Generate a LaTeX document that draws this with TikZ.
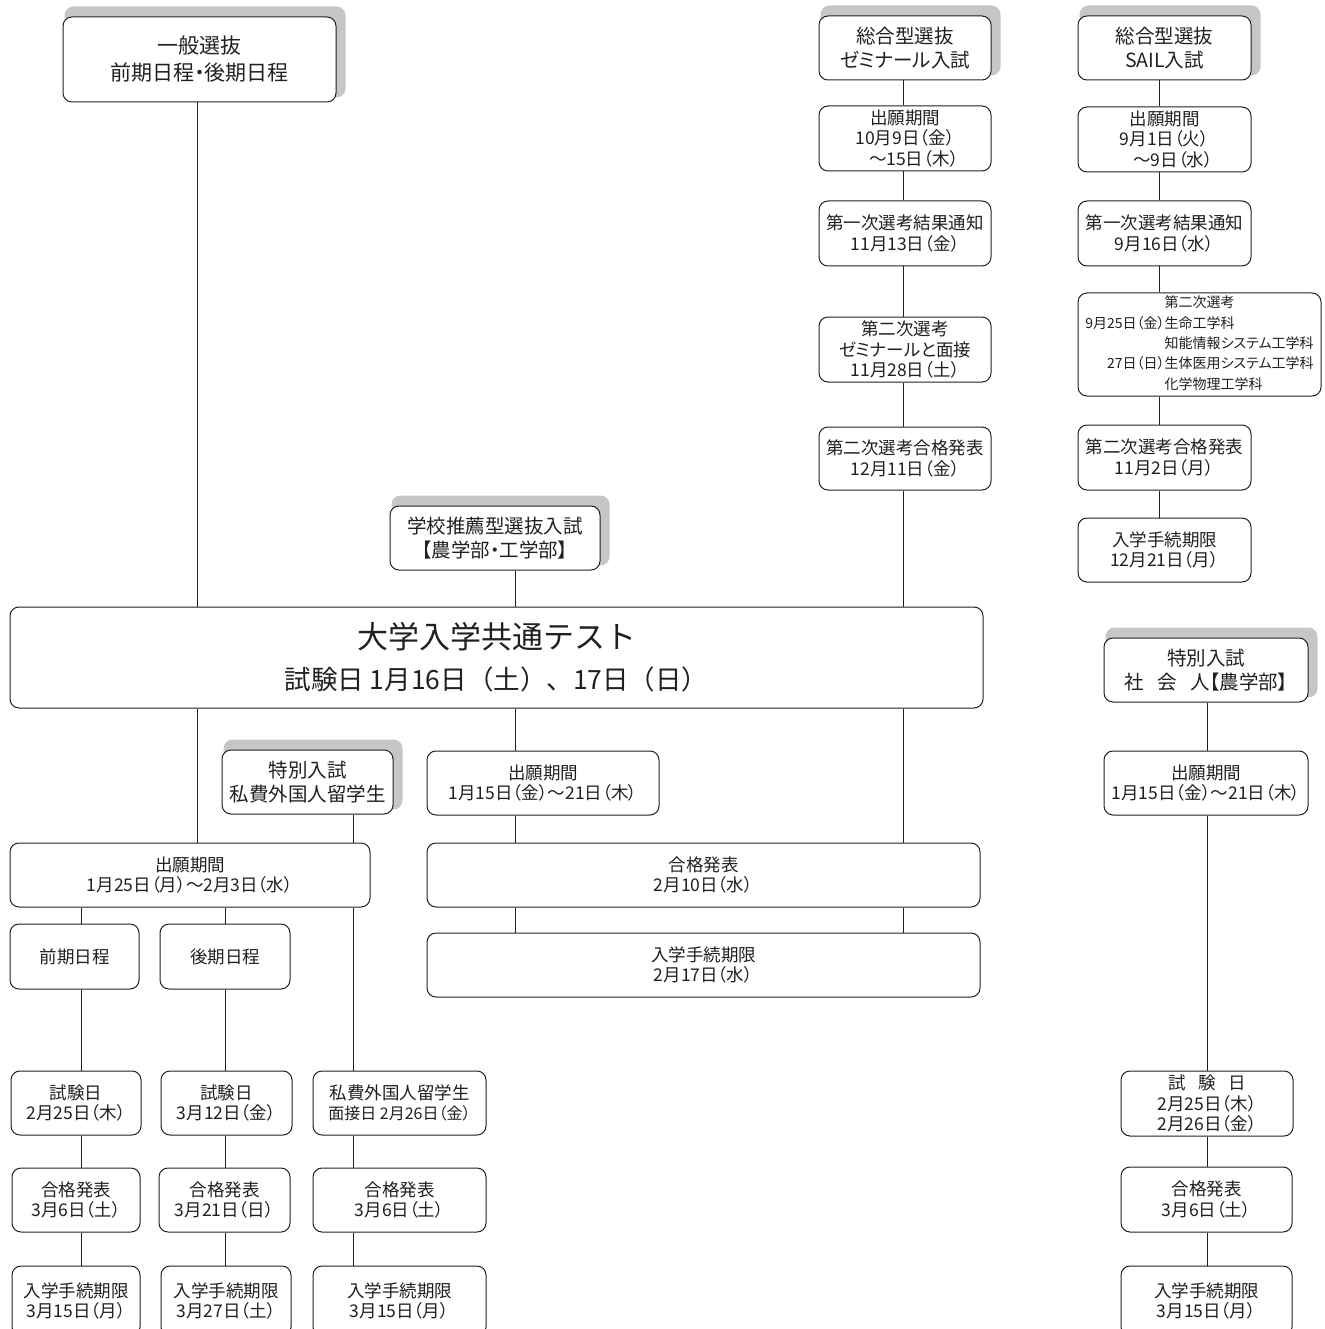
\documentclass[tikz,border=0pt]{standalone}
\usepackage{fontspec}
\setmainfont{Noto Sans CJK JP}[RawFeature=+palt]
\newfontfamily\widefont{Noto Sans CJK JP}
\usepackage{tikz}
\usetikzlibrary{backgrounds, calc}
\definecolor{inkGray}{HTML}{231F20}
\definecolor{shadowGray}{HTML}{C6C6C6}

\begin{document}
\begin{tikzpicture}[x=1pt, y=-1pt,
  every node/.style={text=inkGray},
  link/.style={draw=inkGray, line width=1pt},
  stepbox/.style={draw=inkGray, line width=1pt, fill=white, rounded corners=9pt,
                  align=center, inner sep=0pt, font=\fontsize{17.5}{20.5}\selectfont},
  headbox/.style={stepbox, font=\fontsize{19.5}{24}\selectfont},
  wh/.style 2 args={minimum width=#1pt, minimum height=#2pt}]

  \useasboundingbox (0,0) rectangle (1324,1329);

  %% ═══════════════════════════════════════════════════════════════
  %% COLUMN LINES
  %% ═══════════════════════════════════════════════════════════════

  \coordinate (ippanL)  at (197,0);
  \coordinate (colA)    at (81,0);
  \coordinate (colB)    at (225,0);
  \coordinate (ryuL)    at (353,0);
  \coordinate (schoolL) at (515,0);
  \coordinate (semiL)   at (903,0);
  \coordinate (sailL)   at (1159,0);
  \coordinate (shakaiL) at (1207,0);

  %% ═══════════════════════════════════════════════════════════════
  %% TOP: GENERAL / COMPREHENSIVE SELECTION
  %% ═══════════════════════════════════════════════════════════════

  \node[headbox, wh={273}{85}, font=\fontsize{21}{27}\selectfont] (ippanH) at (199.5,59.5)
      {一般選抜\\前期日程・後期日程};

  \node[headbox, wh={172}{64}] (semiH) at (905,48)
      {総合型選抜\\ゼミナール入試};
  \node[stepbox, wh={172}{65}] (semi1) at (905,138.5)
      {出願期間\\10月9日（金）\\　～15日（木）};
  \node[stepbox, wh={172}{65}] (semi2) at (905,233.5)
      {第一次選考結果通知\\11月13日（金）};
  \node[stepbox, wh={172}{65}] (semi3) at (905,349.5)
      {第二次選考\\ゼミナールと面接\\11月28日（土）};
  \node[stepbox, wh={172}{63}] (semi4) at (905,458.5)
      {第二次選考合格発表\\12月11日（金）};

  \node[headbox, wh={173}{64}] (sailH) at (1164.5,48)
      {総合型選抜\\SAIL入試};
  \node[stepbox, wh={173}{65}] (sail1) at (1164.5,139.5)
      {出願期間\\9月1日（火）\\　～9日（水）};
  \node[stepbox, wh={173}{65}] (sail2) at (1164.5,233.5)
      {第一次選考結果通知\\9月16日（水）};
  \node[stepbox, wh={243}{103}, font=\fontsize{14}{20.3}\selectfont] (sail3) at (1199.5,344.5)
      {\begin{tabular}{@{}r@{}l@{}}
         \multicolumn{2}{c}{第二次選考}\\
         9月25日（金）&生命工学科\\
         &知能情報システム工学科\\
         27日（日）&生体医用システム工学科\\
         &化学物理工学科
       \end{tabular}};
  \node[stepbox, wh={173}{65}] (sail4) at (1164.5,457.5)
      {第二次選考合格発表\\11月2日（月）};
  \node[stepbox, wh={173}{64}] (sail5) at (1164.5,550)
      {入学手続期限\\12月21日（月）};

  \node[headbox, wh={210}{64}] (schoolH) at (495,538)
      {学校推薦型選抜入試\\【農学部・工学部】};

  %% ═══════════════════════════════════════════════════════════════
  %% COMMON TEST
  %% ═══════════════════════════════════════════════════════════════

  \node[stepbox, wh={973}{101}, font=\widefont\fontsize{26.5}{41}\selectfont] (ctest) at (496.5,657.5)
      {{\fontsize{31}{41}\selectfont 大学入学共通テスト}\\
       試験日 1月16日（土）、17日（日）};

  %% ═══════════════════════════════════════════════════════════════
  %% AFTER THE TEST
  %% ═══════════════════════════════════════════════════════════════

  \node[headbox, wh={171}{64}] (ryuH) at (307.5,782)
      {特別入試\\私費外国人留学生};
  \node[stepbox, wh={360}{64}] (applyL) at (190,875)
      {出願期間\\1月25日（月）～2月3日（水）};
  \node[stepbox, wh={129}{65}] (zenki) at (74.5,956.5) {前期日程};
  \node[stepbox, wh={130}{65}] (koki) at (225,956.5) {後期日程};

  \node[stepbox, wh={130}{64}] (shikenA) at (76,1103)
      {試験日\\2月25日（木）};
  \node[stepbox, wh={128}{64}] (passA) at (76,1200)
      {合格発表\\3月6日（土）};
  \node[stepbox, wh={128}{70}] (tetsuA) at (76,1301)
      {入学手続期限\\3月15日（月）};

  \node[stepbox, wh={131}{64}] (shikenB) at (226.5,1103)
      {試験日\\3月12日（金）};
  \node[stepbox, wh={131}{64}] (passB) at (224.5,1200)
      {合格発表\\3月21日（日）};
  \node[stepbox, wh={130}{70}] (tetsuB) at (226,1301)
      {入学手続期限\\3月27日（土）};

  \node[stepbox, wh={173}{64}] (shikenC) at (399.5,1103)
      {私費外国人留学生\\{\fontsize{16}{20.5}\selectfont 面接日 2月26日（金）}};
  \node[stepbox, wh={173}{64}] (passC) at (399.5,1200)
      {合格発表\\3月6日（土）};
  \node[stepbox, wh={173}{70}] (tetsuC) at (399.5,1301)
      {入学手続期限\\3月15日（月）};

  \node[stepbox, wh={232}{64}] (applyM) at (543,783)
      {出願期間\\1月15日（金）～21日（木）};
  \node[stepbox, wh={553}{64}] (passM) at (703.5,875)
      {合格発表\\2月10日（水）};
  \node[stepbox, wh={553}{64}] (tetsuM) at (703.5,965)
      {入学手続期限\\2月17日（水）};

  \node[headbox, wh={204}{64}] (shakaiH) at (1206,670)
      {特別入試\\社\hspace{0.7em}会\hspace{0.7em}人【農学部】};
  \node[stepbox, wh={204}{64}] (applyS) at (1206,783)
      {出願期間\\1月15日（金）～21日（木）};
  \node[stepbox, wh={172}{65}] (shikenS) at (1207,1103.5)
      {試\hspace{0.7em}験\hspace{0.7em}日\\2月25日（木）\\2月26日（金）};
  \node[stepbox, wh={171}{65}] (passS) at (1206.5,1199.5)
      {合格発表\\3月6日（土）};
  \node[stepbox, wh={171}{70}] (tetsuS) at (1206.5,1301)
      {入学手続期限\\3月15日（月）};

  %% ═══════════════════════════════════════════════════════════════
  %% CONNECTORS
  %% ═══════════════════════════════════════════════════════════════

  \draw[link] (ippanL |- ippanH.south) -- (ippanL |- ctest.north);
  \draw[link] (ippanL |- ctest.south) -- (ippanL |- applyL.north);

  \draw[link] (ryuL |- ryuH.south) -- (ryuL |- applyL.north);
  \foreach \a/\b in {applyL/shikenC, shikenC/passC, passC/tetsuC}
    \draw[link] (ryuL |- \a.south) -- (ryuL |- \b.north);
  \foreach \a/\b in {applyL/zenki, zenki/shikenA, shikenA/passA, passA/tetsuA}
    \draw[link] (colA |- \a.south) -- (colA |- \b.north);
  \foreach \a/\b in {applyL/koki, koki/shikenB, shikenB/passB, passB/tetsuB}
    \draw[link] (colB |- \a.south) -- (colB |- \b.north);

  \foreach \a/\b in {schoolH/ctest, ctest/applyM, applyM/passM, passM/tetsuM}
    \draw[link] (schoolL |- \a.south) -- (schoolL |- \b.north);
  \foreach \a/\b in {semiH/semi1, semi1/semi2, semi2/semi3, semi3/semi4,
                     semi4/ctest, ctest/passM, passM/tetsuM}
    \draw[link] (semiL |- \a.south) -- (semiL |- \b.north);
  \foreach \a/\b in {sailH/sail1, sail1/sail2, sail2/sail3, sail3/sail4, sail4/sail5}
    \draw[link] (sailL |- \a.south) -- (sailL |- \b.north);
  \foreach \a/\b in {shakaiH/applyS, applyS/shikenS, shikenS/passS, passS/tetsuS}
    \draw[link] (shakaiL |- \a.south) -- (shakaiL |- \b.north);

  %% header shadows
  \begin{scope}[on background layer]
    \foreach \h in {ippanH, semiH, sailH, schoolH, ryuH, shakaiH}
      \fill[shadowGray, rounded corners=9pt]
        ([shift={(2,-10)}]\h.north west) rectangle ([shift={(9,-5)}]\h.south east);
  \end{scope}

\end{tikzpicture}
\end{document}
